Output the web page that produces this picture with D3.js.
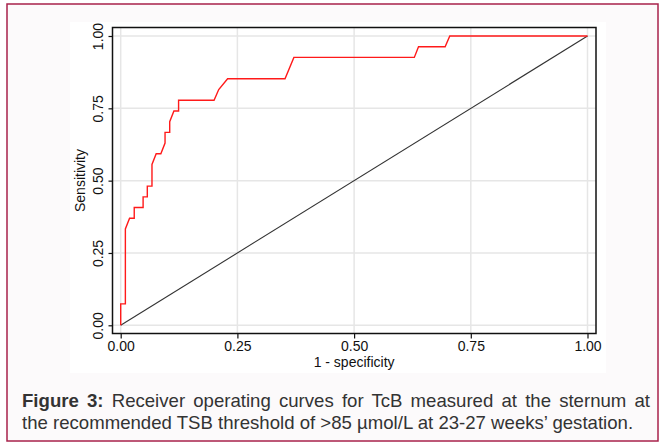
<!DOCTYPE html>
<html>
<head>
<meta charset="utf-8">
<script src="https://cdn.jsdelivr.net/npm/d3@7"></script>
<style>
body { margin: 0; background: #fff; }
svg text { font-family: "Liberation Sans", Arial, sans-serif; }
</style>
</head>
<body>
<div id="chart"></div>
<script>
// ROC curve: 1 - specificity, sensitivity
var fpr = [0, 0, 0.010, 0.010, 0.019, 0.029, 0.029, 0.048, 0.048, 0.057, 0.057, 0.067, 0.067,
    0.076, 0.086, 0.095, 0.095, 0.105, 0.105, 0.114, 0.124, 0.124, 0.200, 0.210, 0.229,
    0.352, 0.371, 0.629, 0.638, 0.695, 0.705, 1.000]
var tpr = [0, 0.074, 0.074, 0.333, 0.370, 0.370, 0.407, 0.407, 0.444, 0.444, 0.481, 0.481, 0.556,
    0.593, 0.593, 0.630, 0.667, 0.667, 0.704, 0.741, 0.741, 0.778, 0.778, 0.815, 0.852,
    0.852, 0.926, 0.926, 0.963, 0.963, 1.000, 1.000]
var refLine = [0, 1]
var xTicks = [0, 0.25, 0.5, 0.75, 1]
var yTicks = [0, 0.25, 0.5, 0.75, 1]
var xTitle = "1 - specificity"
var yTitle = "Sensitivity"
var captionBold = "Figure 3:"
var captionRest = " Receiver operating curves for TcB measured at the sternum at"
var captionLine2 = "the recommended TSB threshold of >85 \u00b5mol/L at 23-27 weeks\u2019 gestation."

var width = 664, height = 443
var frame = { left: 112.5, right: 596, top: 27.5, bottom: 333.5 }

var svg = d3.select("#chart").append("svg")
    .attr("width", width)
    .attr("height", height)

// outer card + white graph panel
svg.append("rect")
    .attr("x", 7).attr("y", 4)
    .attr("width", 651).attr("height", 437)
    .attr("fill", "#fcfafb")
    .attr("stroke", "#a8224b")
    .attr("stroke-width", 1.5)

svg.append("rect")
    .attr("x", 70).attr("y", 22)
    .attr("width", 536).attr("height", 351)
    .attr("fill", "#fff")

var x = d3.scaleLinear().domain([0, 1]).range([120.7, 587.5])
var y = d3.scaleLinear().domain([0, 1]).range([325.3, 36])

// grid
svg.selectAll(".gx").data(xTicks).enter().append("line")
    .attr("class", "gx")
    .attr("x1", d => x(d)).attr("x2", d => x(d))
    .attr("y1", frame.top).attr("y2", frame.bottom)
    .attr("stroke", "#e6e6e6").attr("stroke-width", 1.5)

svg.selectAll(".gy").data(yTicks).enter().append("line")
    .attr("class", "gy")
    .attr("y1", d => y(d)).attr("y2", d => y(d))
    .attr("x1", frame.left).attr("x2", frame.right)
    .attr("stroke", "#e6e6e6").attr("stroke-width", 1.5)

// reference diagonal
svg.append("path")
    .datum(refLine)
    .attr("d", d3.line().x(d => x(d)).y(d => y(d)))
    .attr("fill", "none")
    .attr("stroke", "#333")
    .attr("stroke-width", 1.1)

// roc curve
var roc = fpr.map(function (d, i) { return [d, tpr[i]] })
svg.append("path")
    .datum(roc)
    .attr("d", d3.line().x(d => x(d[0])).y(d => y(d[1])))
    .attr("fill", "none")
    .attr("stroke", "#ff1a1a")
    .attr("stroke-width", 1.4)

// plot frame
svg.append("rect")
    .attr("x", frame.left).attr("y", frame.top)
    .attr("width", frame.right - frame.left)
    .attr("height", frame.bottom - frame.top)
    .attr("fill", "none")
    .attr("stroke", "#111")
    .attr("stroke-width", 1.5)

// x axis
var gx = svg.append("g")
    .attr("transform", "translate(0," + frame.bottom + ")")
    .call(d3.axisBottom(x).tickValues(xTicks).tickFormat(d3.format(".2f")).tickSize(5).tickPadding(3))
gx.select(".domain").remove()
gx.selectAll(".tick line").attr("stroke", "#111").attr("stroke-width", 1.2)
gx.selectAll(".tick text")
    .attr("font-size", "14px")
    .attr("font-family", "Liberation Sans, Arial, sans-serif")
    .attr("fill", "#111")

svg.append("text")
    .attr("x", (x(0) + x(1)) / 2)
    .attr("y", 367)
    .attr("text-anchor", "middle")
    .attr("font-size", "14px")
    .attr("fill", "#111")
    .text(xTitle)

// y axis, labels rotated like the stata output
var gy = svg.append("g")
    .attr("transform", "translate(" + frame.left + ",0)")
    .call(d3.axisLeft(y).tickValues(yTicks).tickFormat(d3.format(".2f")).tickSize(4))
gy.select(".domain").remove()
gy.selectAll(".tick line").attr("stroke", "#111").attr("stroke-width", 1.2)
gy.selectAll(".tick text")
    .attr("x", null).attr("dy", null)
    .attr("transform", "translate(-10,0) rotate(-90)")
    .attr("text-anchor", "middle")
    .attr("font-size", "14px")
    .attr("font-family", "Liberation Sans, Arial, sans-serif")
    .attr("fill", "#111")

svg.append("text")
    .attr("transform", "translate(85," + (frame.top + frame.bottom) / 2 + ") rotate(-90)")
    .attr("text-anchor", "middle")
    .attr("font-size", "14px")
    .attr("fill", "#111")
    .text(yTitle)

// caption, first line justified to the card width
var cap1 = svg.append("text")
    .attr("x", 22).attr("y", 407)
    .attr("font-size", "18.6px")
    .attr("fill", "#333")
cap1.append("tspan").attr("font-weight", "bold").text(captionBold)
cap1.append("tspan").text(captionRest)
var gaps = (captionBold + captionRest).split(" ").length - 1
var len = cap1.node().getComputedTextLength()
cap1.attr("word-spacing", Math.max(0, (650 - 22 - len) / gaps))

svg.append("text")
    .attr("x", 22).attr("y", 429)
    .attr("font-size", "18.6px")
    .attr("fill", "#333")
    .text(captionLine2)
</script>
</body>
</html>
